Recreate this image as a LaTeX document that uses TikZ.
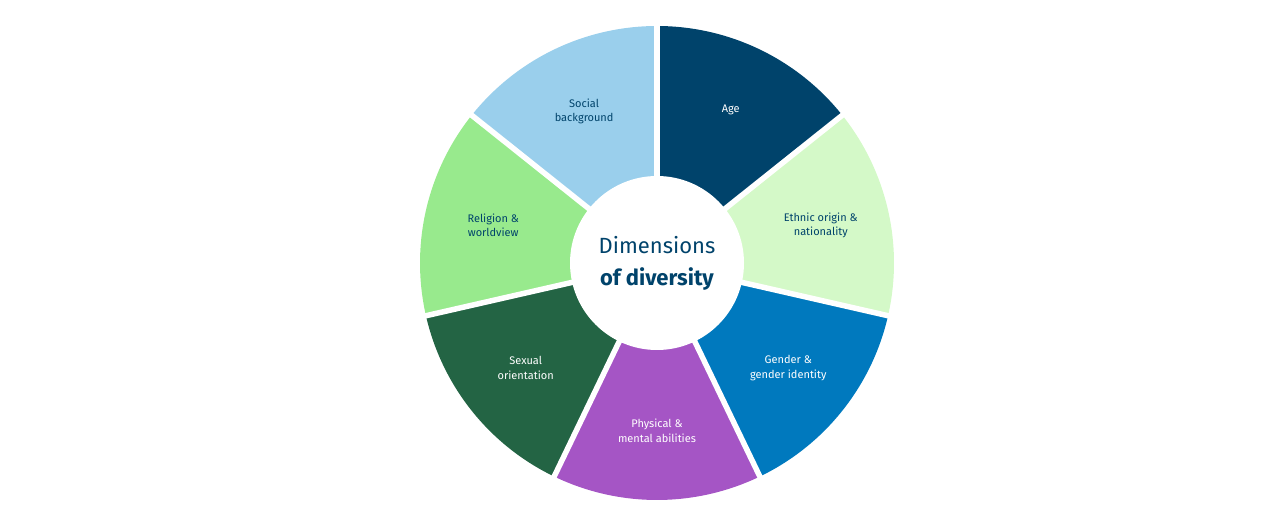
\documentclass[tikz,border=0pt]{standalone}
\usepackage{fontspec}
\setmainfont{Fira Sans}
\usetikzlibrary{calc}
\definecolor{cAge}{HTML}{00436B}
\definecolor{cEth}{HTML}{D4F9C8}
\definecolor{cGen}{HTML}{0079BE}
\definecolor{cPhy}{HTML}{A555C5}
\definecolor{cSex}{HTML}{236444}
\definecolor{cRel}{HTML}{98EA8D}
\definecolor{cSoc}{HTML}{9ACFEC}
\definecolor{txt}{HTML}{00436B}
\begin{document}
\begin{tikzpicture}[x=1pt,y=1pt,
  lab/.style={align=center,font=\fontsize{11}{14.5}\selectfont},
  dk/.style={lab,text=txt}, wt/.style={lab,text=white}]
\useasboundingbox (0,0) rectangle (1280,520);
\coordinate (c) at (657,257);
\def\R{237}
\foreach \k/\col in {0/cAge,1/cEth,2/cGen,3/cPhy,4/cSex,5/cRel,6/cSoc}{
  \pgfmathsetmacro\a{90-\k*360/7}
  \pgfmathsetmacro\b{90-(\k+1)*360/7}
  \fill[\col] (c) -- ++(\a:\R) arc[start angle=\a,end angle=\b,radius=\R] -- cycle;
}
\foreach \k in {0,...,6}{
  \pgfmathsetmacro\a{90-\k*360/7}
  \draw[white,line width=5.5pt] (c) -- ++(\a:\R+3);
}
\fill[white] (c) circle[radius=87];
\node[wt] (age) at ($(c)+(64.3:170)$) {Age};
\node[dk] (eth) at ($(c)+(12.9:168)$) {Ethnic origin \&\\nationality};
\node[wt] (gen) at ($(c)+(-38.6:168)$) {Gender \&\\gender identity};
\node[wt] (phy) at ($(c)+(-90:168)$) {Physical \&\\mental abilities};
\node[wt] (sex) at ($(c)+(-141.4:168)$) {Sexual\\orientation};
\node[dk] (rel) at ($(c)+(167.1:168)$) {Religion \&\\worldview};
\node[dk] (soc) at ($(c)+(115.7:168)$) {Social\\background};
\node[text=txt,align=center,font=\fontsize{22}{32}\selectfont] (ctr) at (c) {Dimensions\\\textbf{of diversity}};
\end{tikzpicture}
\end{document}
